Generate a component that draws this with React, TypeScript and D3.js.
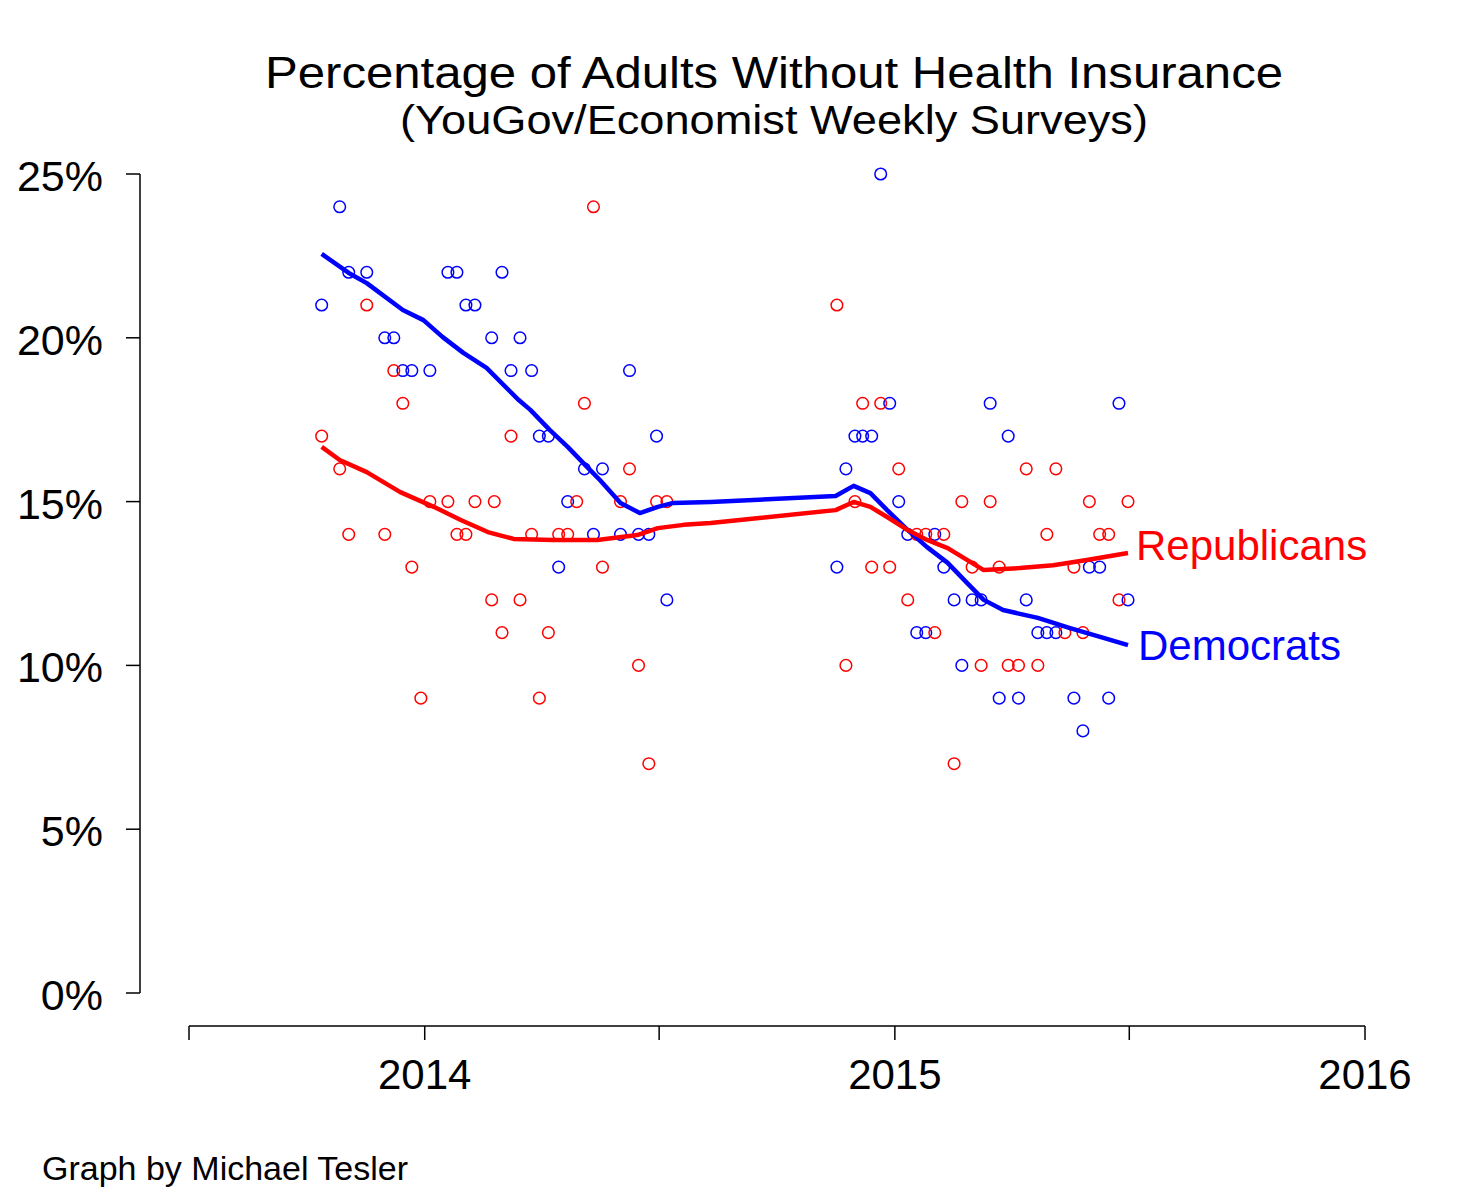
import React, { useEffect, useRef } from 'react';
import * as d3 from 'd3';

// weekly survey points (date, % uninsured)
const demPoints: [string, number][] = [
  ['2013-10-13', 21], ['2013-10-27', 24], ['2013-11-03', 22], ['2013-11-17', 22],
  ['2013-12-01', 20], ['2013-12-08', 20], ['2013-12-15', 19], ['2013-12-22', 19],
  ['2014-01-05', 19], ['2014-01-19', 22], ['2014-01-26', 22], ['2014-02-02', 21],
  ['2014-02-09', 21], ['2014-02-22', 20], ['2014-03-02', 22], ['2014-03-09', 19],
  ['2014-03-16', 20], ['2014-03-25', 19], ['2014-03-31', 17], ['2014-04-07', 17],
  ['2014-04-15', 13], ['2014-04-22', 15], ['2014-05-05', 16], ['2014-05-12', 14],
  ['2014-05-19', 16], ['2014-06-02', 14], ['2014-06-09', 19], ['2014-06-16', 14],
  ['2014-06-24', 14], ['2014-06-30', 17], ['2014-07-08', 12],
  ['2014-11-17', 13], ['2014-11-24', 16], ['2014-12-01', 17], ['2014-12-07', 17],
  ['2014-12-14', 17], ['2014-12-21', 25], ['2014-12-28', 18], ['2015-01-04', 15],
  ['2015-01-11', 14], ['2015-01-18', 11], ['2015-01-25', 11], ['2015-02-01', 14],
  ['2015-02-08', 13], ['2015-02-16', 12], ['2015-02-22', 10], ['2015-03-02', 12],
  ['2015-03-09', 12], ['2015-03-16', 18], ['2015-03-23', 9], ['2015-03-30', 17],
  ['2015-04-07', 9], ['2015-04-13', 12], ['2015-04-22', 11], ['2015-04-29', 11],
  ['2015-05-06', 11], ['2015-05-20', 9], ['2015-05-27', 8], ['2015-06-01', 13],
  ['2015-06-09', 13], ['2015-06-16', 9], ['2015-06-24', 18], ['2015-07-01', 12],
];

const repPoints: [string, number][] = [
  ['2013-10-13', 17], ['2013-10-27', 16], ['2013-11-03', 14], ['2013-11-17', 21],
  ['2013-12-01', 14], ['2013-12-08', 19], ['2013-12-15', 18], ['2013-12-22', 13],
  ['2013-12-29', 9], ['2014-01-05', 15], ['2014-01-19', 15], ['2014-01-26', 14],
  ['2014-02-02', 14], ['2014-02-09', 15], ['2014-02-22', 12], ['2014-02-24', 15],
  ['2014-03-02', 11], ['2014-03-09', 17], ['2014-03-16', 12], ['2014-03-25', 14],
  ['2014-03-31', 9], ['2014-04-07', 11], ['2014-04-15', 14], ['2014-04-22', 14],
  ['2014-04-29', 15], ['2014-05-05', 18], ['2014-05-12', 24], ['2014-05-19', 13],
  ['2014-06-02', 15], ['2014-06-09', 16], ['2014-06-16', 10], ['2014-06-24', 7],
  ['2014-06-30', 15], ['2014-07-08', 15],
  ['2014-11-17', 21], ['2014-11-24', 10], ['2014-12-01', 15], ['2014-12-07', 18],
  ['2014-12-14', 13], ['2014-12-21', 18], ['2014-12-28', 13], ['2015-01-04', 16],
  ['2015-01-11', 12], ['2015-01-18', 14], ['2015-01-25', 14], ['2015-02-01', 11],
  ['2015-02-08', 14], ['2015-02-16', 7], ['2015-02-22', 15], ['2015-03-02', 13],
  ['2015-03-09', 10], ['2015-03-16', 15], ['2015-03-23', 13], ['2015-03-30', 10],
  ['2015-04-07', 10], ['2015-04-13', 16], ['2015-04-22', 10], ['2015-04-29', 14],
  ['2015-05-06', 16], ['2015-05-13', 11], ['2015-05-20', 13], ['2015-05-27', 11],
  ['2015-06-01', 15], ['2015-06-09', 14], ['2015-06-16', 14], ['2015-06-24', 12],
  ['2015-07-01', 15],
];

// smoothed trend lines
const demTrend: [string, number][] = [
  ['2013-10-13', 22.56], ['2013-11-03', 21.98], ['2013-11-17', 21.67], ['2013-12-15', 20.85],
  ['2013-12-31', 20.54], ['2014-01-15', 20.02], ['2014-01-31', 19.54], ['2014-02-18', 19.08],
  ['2014-03-15', 18.1], ['2014-03-24', 17.8], ['2014-04-08', 17.19], ['2014-04-22', 16.67],
  ['2014-05-07', 16.06], ['2014-05-17', 15.66], ['2014-06-02', 14.96], ['2014-06-17', 14.65],
  ['2014-07-01', 14.84], ['2014-07-13', 14.96], ['2014-08-11', 14.99], ['2014-11-16', 15.17],
  ['2014-11-30', 15.48], ['2014-12-13', 15.26], ['2014-12-26', 14.74], ['2015-01-11', 14.13],
  ['2015-01-26', 13.61], ['2015-02-11', 13.13], ['2015-02-26', 12.52], ['2015-03-11', 12.0],
  ['2015-03-26', 11.69], ['2015-04-22', 11.45], ['2015-05-17', 11.14], ['2015-06-12', 10.84],
  ['2015-07-01', 10.62],
];

const repTrend: [string, number][] = [
  ['2013-10-13', 16.67], ['2013-10-27', 16.27], ['2013-11-17', 15.9], ['2013-12-13', 15.29],
  ['2014-01-08', 14.84], ['2014-01-29', 14.44], ['2014-02-19', 14.07], ['2014-03-11', 13.86],
  ['2014-04-11', 13.83], ['2014-05-15', 13.83], ['2014-06-15', 13.98], ['2014-07-01', 14.19],
  ['2014-07-21', 14.29], ['2014-08-11', 14.35], ['2014-11-16', 14.74], ['2014-11-30', 14.99],
  ['2014-12-13', 14.84], ['2014-12-26', 14.53], ['2015-01-11', 14.13], ['2015-01-26', 13.83],
  ['2015-02-11', 13.58], ['2015-02-26', 13.22], ['2015-03-11', 12.91], ['2015-04-08', 12.97],
  ['2015-05-04', 13.06], ['2015-05-30', 13.22], ['2015-07-01', 13.43],
];

const yTicks = [0, 5, 10, 15, 20, 25];
const xTicks = ['2013-07-02', '2014-01-01', '2014-07-02', '2015-01-01', '2015-07-02', '2016-01-01'];
const xTickLabels = ['', '2014', '', '2015', '', '2016'];

const FONT = '"Liberation Sans", Arial, Helvetica, sans-serif';

const App = () => {
  const ref = useRef<SVGSVGElement>(null);

  useEffect(() => {
    const width = 1484;
    const height = 1201;
    const svg = d3.select(ref.current);
    svg.selectAll('*').remove();

    svg.append('rect').attr('width', width).attr('height', height).attr('fill', 'white');

    const parse = d3.utcParse('%Y-%m-%d');

    const xScale = d3.scaleUtc()
      .domain([parse(xTicks[0])!, parse(xTicks[xTicks.length - 1])!])
      .range([189, 1365]);
    const yScale = d3.scaleLinear().domain([0, 25]).range([993, 174]);

    // title (the original's lettering is a bit wider than Arial, so stretch to its width)
    svg.append('text')
      .attr('x', 774).attr('y', 88)
      .attr('text-anchor', 'middle')
      .attr('textLength', 1018).attr('lengthAdjust', 'spacingAndGlyphs')
      .style('font-family', FONT).style('font-size', '44px')
      .text('Percentage of Adults Without Health Insurance');
    svg.append('text')
      .attr('x', 774).attr('y', 134)
      .attr('text-anchor', 'middle')
      .attr('textLength', 748).attr('lengthAdjust', 'spacingAndGlyphs')
      .style('font-family', FONT).style('font-size', '41px')
      .text('(YouGov/Economist Weekly Surveys)');

    // y axis
    const yAxisX = 140;
    svg.append('line')
      .attr('x1', yAxisX).attr('x2', yAxisX)
      .attr('y1', yScale(25)).attr('y2', yScale(0))
      .attr('stroke', 'black').attr('stroke-width', 1.5);
    yTicks.forEach(t => {
      svg.append('line')
        .attr('x1', yAxisX - 14).attr('x2', yAxisX)
        .attr('y1', yScale(t)).attr('y2', yScale(t))
        .attr('stroke', 'black').attr('stroke-width', 1.5);
      svg.append('text')
        .attr('x', 103).attr('y', yScale(t) + 17)
        .attr('text-anchor', 'end')
        .style('font-family', FONT).style('font-size', '43px')
        .text(`${t}%`);
    });

    // x axis
    const xAxisY = 1026;
    svg.append('line')
      .attr('x1', xScale(parse(xTicks[0])!)).attr('x2', xScale(parse(xTicks[xTicks.length - 1])!))
      .attr('y1', xAxisY).attr('y2', xAxisY)
      .attr('stroke', 'black').attr('stroke-width', 1.5);
    xTicks.forEach((t, i) => {
      const x = xScale(parse(t)!);
      svg.append('line')
        .attr('x1', x).attr('x2', x)
        .attr('y1', xAxisY).attr('y2', xAxisY + 14)
        .attr('stroke', 'black').attr('stroke-width', 1.5);
      if (xTickLabels[i]) {
        svg.append('text')
          .attr('x', x).attr('y', 1089)
          .attr('text-anchor', 'middle')
          .style('font-family', FONT).style('font-size', '42px')
          .text(xTickLabels[i]);
      }
    });

    const series = [
      { points: demPoints, trend: demTrend, color: '#0000FF', label: 'Democrats', dx: 10, dy: 15 },
      { points: repPoints, trend: repTrend, color: '#FF0000', label: 'Republicans', dx: 8, dy: 7 },
    ];

    const line = d3.line<[string, number]>()
      .x(d => xScale(parse(d[0])!))
      .y(d => yScale(d[1]));

    // circles first, blue under red like the original
    series.forEach(s => {
      svg.append('g')
        .selectAll('circle')
        .data(s.points)
        .enter()
        .append('circle')
        .attr('cx', d => xScale(parse(d[0])!))
        .attr('cy', d => yScale(d[1]))
        .attr('r', 5.8)
        .attr('fill', 'none')
        .attr('stroke', s.color)
        .attr('stroke-width', 1.5);
    });

    series.forEach(s => {
      svg.append('path')
        .datum(s.trend)
        .attr('fill', 'none')
        .attr('stroke', s.color)
        .attr('stroke-width', 4.5)
        .attr('stroke-linejoin', 'round')
        .attr('d', line);

      const last = s.trend[s.trend.length - 1];
      svg.append('text')
        .attr('x', xScale(parse(last[0])!) + s.dx)
        .attr('y', yScale(last[1]) + s.dy)
        .style('font-family', FONT).style('font-size', '42px')
        .attr('fill', s.color)
        .text(s.label);
    });

    // footer
    svg.append('text')
      .attr('x', 42).attr('y', 1180)
      .attr('textLength', 366).attr('lengthAdjust', 'spacingAndGlyphs')
      .style('font-family', FONT).style('font-size', '33px')
      .text('Graph by Michael Tesler');
  }, []);

  return (
    <svg
      ref={ref}
      width={1484}
      height={1201}
      style={{ position: 'absolute', left: 0, top: 0, display: 'block' }}
    />
  );
};

export default App;
